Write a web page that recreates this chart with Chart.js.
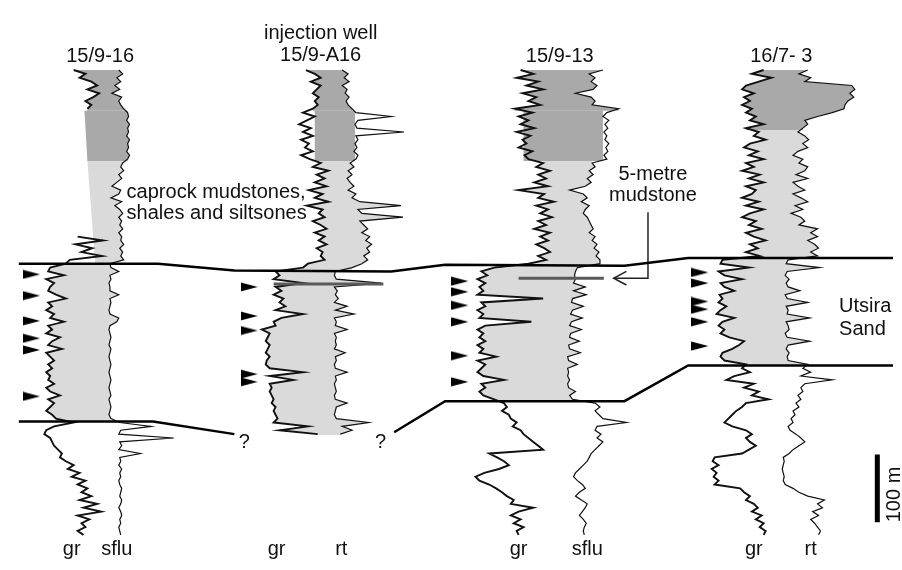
<!DOCTYPE html>
<html lang="en">
<head>
<meta charset="UTF-8">
<title>Utsira Sand well correlation</title>
<style>
  body { margin: 0; background: #fff; }
</style>
</head>
<body>
<canvas id="logChart" width="902" height="570"></canvas>
<script src="https://cdn.jsdelivr.net/npm/chart.js"></script>
<script>
// log samples: depth (px) starts at 63, one sample every 4 px
const depthTop = 63;
const depthStep = 4;

const wells = ['15/9-16', '15/9-A16', '15/9-13', '16/7- 3'];
const curveNames = [['gr', 'sflu'], ['gr', 'rt'], ['gr', 'sflu'], ['gr', 'rt']];

// 15/9-16
const gr1 = [66, 78, 72, 84, 90, 80, 92, 86, 78, 84,
  80, null, null, null, null, null, null, null, null, null,
  null, null, null, null, null, null, null, null, null, null,
  null, null, null, null, null, null, null, null, null, null,
  null, null, null, 70, 96, 68, 85, 74, 95, 62,
  58, 42, 40, 56, 38, 46, 42, 40, 48, 58,
  40, 44, 38, 46, 42, 56, 40, 44, 38, 52,
  44, 40, 54, 38, 42, 46, 40, 44, 38, 42,
  40, 46, 38, 42, 52, 40, 46, 42, 38, 44,
  48, 66, 46, 38, 36, 42, 44, 46, 50, 54,
  52, 58, 66, 60, 72, 64, 78, 70, 80, 74,
  84, 72, 90, 76, 94, 70, 82, 74, 78, 70, 76];
const res1 = [112, 116, 110, 114, 108, 113, 105, 115, 112, 114,
  117, 121, 122, 120, 123, 121, 122, 120, 123, 121,
  122, 120, 123, 121, 116, 114, 117, 112, 115, 110,
  105, 114, 112, 104, 115, 108, 113, 116, 112, 115,
  113, 116, 112, 115, 114, 117, 113, 116, 114, 117,
  103, 104, 112, 103, 104, 102, 103, 103, 112, 103,
  104, 103, 102, 103, 112, 110, 103, 102, 103, 104,
  103, 102, 104, 103, 102, 103, 104, 103, 102, 103,
  104, 103, 102, 103, 104, 102, 103, 104, 103, 102,
  104, 113, 145, 114, 112, 168, 113, 115, 112, 134,
  113, 114, 112, 115, 113, 114, 112, 113, 115, 114,
  113, 115, 114, 112, 114, 115, 113, 114, 112, 113, 114];

// 15/9-A16 (injection well)
const gr2 = [303, 312, 318, 308, 318, 314, 310, 316, 312, 315,
  310, 300, 312, 304, 296, 308, 300, 310, 298, 306,
  302, 310, 298, 307, 318, 310, 326, 314, 322, 312,
  324, 306, 320, 312, 326, 304, 320, 316, 322, 310,
  318, 324, 312, 322, 316, 324, 314, 320, 318, 322,
  305, 300, 272, 276, 270, 300, 272, 278, 270, 280,
  276, 282, 272, 300, 278, 270, 272, 258, 266, 264,
  262, 266, 264, 262, 266, 263, 262, 266, 300, 266,
  290, 266, 268, 266, 268, 270, 268, 272, 270, 272,
  274, 270, 305, 276, 315];
const res2 = [340, 346, 342, 347, 340, 345, 343, 347, 344, 346,
  350, 354, 390, 356, 353, 355, 403, 354, 356, 353,
  355, 352, 356, 354, 348, 352, 346, 350, 345, 348,
  352, 346, 354, 350, 358, 400, 356, 360, 402, 358,
  362, 366, 360, 368, 364, 370, 365, 368, 362, 366,
  360, 350, 333, 332, 334, 380, 332, 335, 333, 336,
  332, 345, 333, 352, 332, 334, 333, 345, 332, 334,
  333, 334, 332, 343, 333, 334, 332, 333, 345, 333,
  334, 332, 333, 334, 332, 333, 345, 334, 333, 332,
  334, 367, 340, 350, 338];

// 15/9-13
const gr3 = [522, 535, 518, 540, 528, 545, 524, 538, 530, 542,
  516, 534, 520, 530, 522, 536, 518, 532, 524, 528,
  520, 534, 526, 530, 545, 538, 552, 540, 548, 536,
  550, 520, 546, 540, 556, 538, 550, 542, 554, 540,
  548, 536, 552, 542, 550, 538, 546, 552, 540, 548,
  530, 495, 482, 488, 478, 486, 480, 484, 478, 545,
  482, 486, 478, 484, 480, 533, 486, 478, 484, 480,
  486, 478, 484, 480, 497, 478, 486, 482, 478, 484,
  505, 482, 486, 480, 484, 495, 505, 508, 503, 510,
  512, 518, 514, 522, 525, 530, 535, 540, 545, 490,
  498, 505, 510, 500, 485, 476, 480, 490, 497, 503,
  508, 515, 512, 535, 520, 512, 522, 515, 525, 518, 520];
const res3 = [606, 592, 598, 594, 600, 596, 578, 594, 598, 595,
  622, 610, 606, 612, 608, 611, 607, 610, 608, 612,
  609, 611, 607, 610, 595, 598, 592, 596, 590, 594,
  588, 572, 586, 590, 584, 592, 588, 586, 590, 592,
  594, 596, 592, 598, 595, 600, 597, 602, 599, 603,
  603, 580, 578, 577, 578, 576, 588, 576, 589, 575,
  574, 586, 575, 573, 585, 574, 572, 584, 573, 572,
  582, 571, 572, 583, 570, 571, 580, 570, 571, 570,
  572, 570, 571, 578, 572, 575, 598, 603, 598, 602,
  606, 630, 600, 598, 604, 600, 606, 602, 598, 594,
  592, 590, 586, 582, 578, 576, 580, 585, 588, 582,
  578, 584, 590, 588, 585, 582, 586, 589, 587, 586, 587];

// 16/7-3
const gr4 = [770, 758, 778, 765, 752, 748, 760, 750, 756, 748,
  758, 752, 762, 756, 770, 752, 765, 760, 772, 756,
  750, 764, 755, 770, 752, 760, 748, 766, 755, 770,
  752, 762, 758, 748, 765, 752, 770, 756, 748, 762,
  755, 768, 752, 760, 772, 756, 764, 752, 766, 728,
  726, 755, 724, 730, 748, 726, 730, 740, 725, 728,
  724, 732, 726, 722, 740, 728, 724, 730, 726, 735,
  750, 745, 738, 728, 726, 730, 752, 748, 756, 740,
  732, 760, 750, 765, 758, 775, 752, 748, 742, 738,
  734, 730, 738, 752, 758, 752, 756, 762, 755, 748,
  720, 718, 724, 717, 722, 719, 724, 720, 746, 750,
  756, 752, 760, 764, 758, 768, 762, 770, 766, 772, 770];
const res4 = [815, 806, 818, 812, 860, 863, 858, 862, 856, 853,
  852, 840, 825, 812, 815, 810, 805, 812, 816, 810,
  815, 805, 800, 810, 806, 815, 812, 803, 815, 800,
  805, 812, 800, 808, 815, 802, 810, 798, 808, 812,
  806, 825, 818, 825, 815, 822, 826, 818, 825, 795,
  793, 827, 794, 792, 796, 793, 795, 807, 792, 794,
  815, 793, 795, 794, 817, 793, 795, 796, 792, 794,
  817, 795, 793, 796, 794, 795, 815, 810, 818, 808,
  840, 812, 808, 810, 805, 808, 803, 806, 800, 802,
  798, 800, 795, 797, 803, 808, 812, 806, 800, 796,
  790, 791, 790, 789, 790, 791, 790, 792, 800, 806,
  815, 832, 825, 830, 820, 826, 818, 822, 825, 828, 826];

// correlation surfaces (x, depth)
const topUtsira = [[10, 263], [152, 263], [230, 270], [390, 271], [445, 264], [628, 265], [693, 257], [902, 257]];
const baseUtsiraWest = [[10, 426], [147, 426], [230, 439]];
const baseUtsiraEast = [[393, 437], [445, 405], [628, 405], [693, 368], [902, 368]];

// arrow-marked picks
const picks1 = [274, 296, 322, 340, 352, 400];
const picks2 = [287, 317, 332, 377, 385];
const picks3 = [281, 292, 306, 323, 358, 385];
const picks4 = [272, 283, 302, 310, 323, 348];

// 5-metre mudstone
const mudstone2 = [[270, 284], [382, 284]];
const mudstone3 = [[520, 278], [607, 278]];

const DARK = '#a9a9a9';
const LIGHT = '#dadada';
const INK = '#111111';

function samples(vals) {
  return vals.map((v, i) => ({x: v, y: depthTop + i * depthStep}));
}
function pairs(arr) {
  return arr.map(p => ({x: p[0], y: p[1]}));
}
function edge(spec, top, bot) {
  if (Array.isArray(spec[0])) return pairs(spec);
  const out = [];
  spec.forEach((v, i) => {
    const d = depthTop + i * depthStep;
    if (v != null && d >= top && d <= bot) out.push({x: v, y: d});
  });
  if (out.length) {
    out.unshift({x: out[0].x, y: top});
    out.push({x: out[out.length - 1].x, y: bot});
  }
  return out;
}

const zones = [
  {L: gr1, R: res1, top: 63, bot: 105, c: DARK},
  {L: [[77, 105], [80, 157]], R: res1, top: 105, bot: 157, c: DARK},
  {L: [[80, 157], [88, 263]], R: res1, top: 157, bot: 263, c: LIGHT},
  {L: gr1, R: res1, top: 263, bot: 426, c: LIGHT},
  {L: gr2, R: res2, top: 63, bot: 105, c: DARK},
  {L: [[312, 105], [312, 157]], R: [[353, 105], [353, 157]], top: 105, bot: 157, c: DARK},
  {L: gr2, R: res2, top: 157, bot: 270, c: LIGHT},
  {L: gr2, R: res2, top: 271, bot: 440, c: LIGHT},
  {L: gr3, R: res3, top: 63, bot: 105, c: DARK},
  {L: [[525, 105], [525, 157]], R: [[606, 105], [606, 157]], top: 105, bot: 157, c: DARK},
  {L: gr3, R: res3, top: 157, bot: 265, c: LIGHT},
  {L: gr3, R: res3, top: 265, bot: 405, c: LIGHT},
  {L: gr4, R: res4, top: 63, bot: 125, c: DARK},
  {L: gr4, R: res4, top: 125, bot: 257, c: LIGHT},
  {L: gr4, R: res4, top: 257, bot: 368, c: LIGHT}
];

const datasets = [];

zones.forEach(z => {
  const left = edge(z.L, z.top, z.bot);
  const right = edge(z.R, z.top, z.bot).reverse();
  datasets.push({
    data: left.concat(right),
    showLine: true, fill: 'shape', backgroundColor: z.c,
    borderWidth: 0, pointRadius: 0, order: 5
  });
});

[gr1, gr2, gr3, gr4].forEach(g => {
  datasets.push({data: samples(g), showLine: true, borderColor: INK, borderWidth: 1.9, pointRadius: 0, order: 3});
});
[res1, res2, res3, res4].forEach(r => {
  datasets.push({data: samples(r), showLine: true, borderColor: INK, borderWidth: 1.2, pointRadius: 0, order: 3});
});
[mudstone2, mudstone3].forEach(m => {
  datasets.push({data: pairs(m), showLine: true, borderColor: '#5a5a5a', borderWidth: 3, pointRadius: 0, order: 2});
});
[topUtsira, baseUtsiraWest, baseUtsiraEast].forEach(s => {
  datasets.push({data: pairs(s), showLine: true, borderColor: '#000', borderWidth: 2.5, pointRadius: 0, order: 1});
});
// 5-metre mudstone pointer
datasets.push({data: pairs([[617, 278], [652, 278], [652, 210]]), showLine: true, borderColor: '#222', borderWidth: 1.5, pointRadius: 0, order: 1});
datasets.push({data: pairs([[630, 271], [617, 278], [630, 285]]), showLine: true, borderColor: '#222', borderWidth: 1.5, pointRadius: 0, order: 1});
// 100 m scale bar
datasets.push({data: pairs([[886, 460], [886, 530]]), showLine: true, borderColor: '#000', borderWidth: 5, pointRadius: 0, order: 1});

const tri = document.createElement('canvas');
tri.width = 17; tri.height = 10;
const tctx = tri.getContext('2d');
tctx.fillStyle = '#000';
tctx.beginPath(); tctx.moveTo(0, 0.5); tctx.lineTo(17, 5); tctx.lineTo(0, 9.5); tctx.closePath(); tctx.fill();

const pickX = [23, 245, 460, 705];
[picks1, picks2, picks3, picks4].forEach((p, i) => {
  datasets.push({data: p.map(d => ({x: pickX[i], y: d})), showLine: false, pointStyle: tri, pointRadius: 8, order: 0});
});

const texts = [
  {t: wells[0], x: 93, y: 55, a: 'center'},
  {t: 'injection well', x: 318, y: 31, a: 'center'},
  {t: wells[1], x: 318, y: 54, a: 'center'},
  {t: wells[2], x: 562, y: 55, a: 'center'},
  {t: wells[3], x: 788, y: 55, a: 'center'},
  {t: 'caprock mudstones,', x: 120, y: 195, a: 'left'},
  {t: 'shales and siltsones', x: 120, y: 217, a: 'left'},
  {t: '5-metre', x: 657, y: 177, a: 'center'},
  {t: 'mudstone', x: 657, y: 198, a: 'center'},
  {t: 'Utsira', x: 847, y: 313, a: 'left'},
  {t: 'Sand', x: 847, y: 337, a: 'left'},
  {t: '?', x: 240, y: 453, a: 'center'},
  {t: '?', x: 379, y: 453, a: 'center'},
  {t: curveNames[0][0], x: 64, y: 564, a: 'center'},
  {t: curveNames[0][1], x: 110, y: 564, a: 'center'},
  {t: curveNames[1][0], x: 273, y: 564, a: 'center'},
  {t: curveNames[1][1], x: 339, y: 564, a: 'center'},
  {t: curveNames[2][0], x: 520, y: 564, a: 'center'},
  {t: curveNames[2][1], x: 590, y: 564, a: 'center'},
  {t: curveNames[3][0], x: 760, y: 564, a: 'center'},
  {t: curveNames[3][1], x: 818, y: 564, a: 'center'}
];

const textPlugin = {
  id: 'wellText',
  afterDatasetsDraw(chart) {
    const {ctx, scales: {x, y}} = chart;
    ctx.save();
    ctx.fillStyle = '#111';
    ctx.font = '20px "Liberation Sans", Arial, sans-serif';
    ctx.textBaseline = 'alphabetic';
    texts.forEach(t => {
      ctx.textAlign = t.a;
      ctx.fillText(t.t, x.getPixelForValue(t.x), y.getPixelForValue(t.y));
    });
    // scale bar label, rotated and running off the right edge
    ctx.translate(x.getPixelForValue(893), y.getPixelForValue(530));
    ctx.rotate(-Math.PI / 2);
    ctx.textAlign = 'left';
    ctx.textBaseline = 'top';
    ctx.fillText('100 m', 0, 0);
    ctx.restore();
  }
};

new Chart(document.getElementById('logChart'), {
  type: 'scatter',
  data: {datasets: datasets},
  options: {
    responsive: false,
    animation: false,
    events: [],
    layout: {padding: 0},
    elements: {line: {tension: 0}},
    plugins: {legend: {display: false}, tooltip: {enabled: false}},
    scales: {
      x: {type: 'linear', min: 0, max: 902, display: false},
      y: {type: 'linear', min: 0, max: 570, reverse: true, display: false}
    }
  },
  plugins: [textPlugin]
});
</script>
</body>
</html>
